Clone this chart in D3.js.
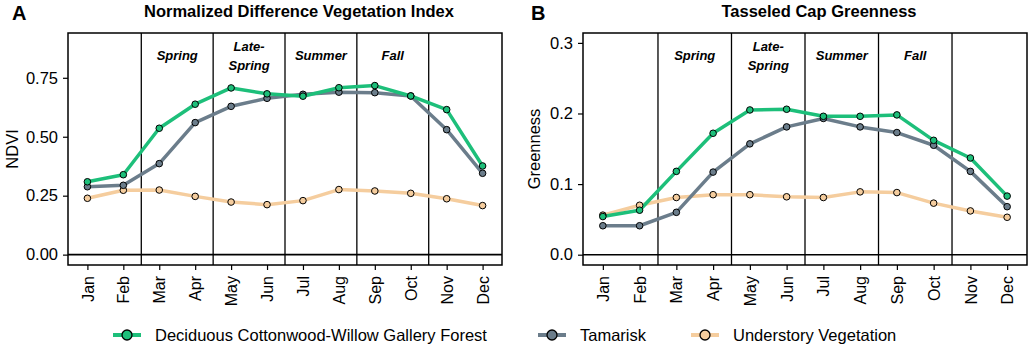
<!DOCTYPE html>
<html>
<head>
<meta charset="utf-8">
<script src="https://cdn.jsdelivr.net/npm/d3@7"></script>
<style>
  body { margin: 0; background: #fff; }
  svg { font-family: "Liberation Sans", Arial, sans-serif; }
</style>
</head>
<body>
<div id="chart"></div>
<script>
(function() {
  // data
  var months = ["Jan", "Feb", "Mar", "Apr", "May", "Jun", "Jul", "Aug", "Sep", "Oct", "Nov", "Dec"];
  var seriesNames = ["Deciduous Cottonwood-Willow Gallery Forest", "Tamarisk", "Understory Vegetation"];
  var seriesColors = ["#1dbf7a", "#6b7d8b", "#f5cd9e"];
  var seasons = ["Spring", "Late-\nSpring", "Summer", "Fall"];

  var ndviForest = [0.309, 0.339, 0.536, 0.638, 0.707, 0.682, 0.672, 0.708, 0.717, 0.673, 0.615, 0.376];
  var ndviTamarisk = [0.288, 0.294, 0.386, 0.560, 0.629, 0.663, 0.680, 0.689, 0.687, 0.673, 0.530, 0.345];
  var ndviUnderstory = [0.239, 0.273, 0.274, 0.247, 0.223, 0.212, 0.229, 0.276, 0.270, 0.260, 0.237, 0.208];
  var ndviTicks = [0, 0.25, 0.5, 0.75];

  var greenForest = [0.054, 0.063, 0.118, 0.172, 0.205, 0.206, 0.196, 0.196, 0.198, 0.162, 0.137, 0.083];
  var greenTamarisk = [0.041, 0.041, 0.060, 0.117, 0.157, 0.181, 0.193, 0.181, 0.173, 0.155, 0.118, 0.068];
  var greenUnderstory = [0.056, 0.070, 0.081, 0.085, 0.085, 0.082, 0.081, 0.089, 0.088, 0.073, 0.062, 0.053];
  var greenTicks = [0, 0.1, 0.2, 0.3];

  var svg = d3.select("#chart")
    .append("svg")
    .attr("width", 1031)
    .attr("height", 349);

  var panels = [
    { letter: "A", title: "Normalized Difference Vegetation Index", ylab: "NDVI",
      left: 68, right: 502, domain: [-0.044, 0.94], ticks: ndviTicks, fmt: d3.format(".2f"),
      series: [ndviForest, ndviTamarisk, ndviUnderstory], letterX: 12, ylabX: 18, titleX: 299 },
    { letter: "B", title: "Tasseled Cap Greenness", ylab: "Greenness",
      left: 583, right: 1027, domain: [-0.0146, 0.314], ticks: greenTicks, fmt: d3.format(".1f"),
      series: [greenForest, greenTamarisk, greenUnderstory], letterX: 531, ylabX: 540, titleX: 819 }
  ];

  var top = 33, bottom = 265;

  panels.forEach(function(p) {
    var x = d3.scalePoint()
      .domain(months)
      .range([p.left, p.right])
      .padding(0.54);
    var y = d3.scaleLinear()
      .domain(p.domain)
      .range([bottom, top]);

    var g = svg.append("g");

    // panel letter + title
    g.append("text")
      .attr("x", p.letterX).attr("y", 20)
      .attr("font-size", 20).attr("font-weight", "bold")
      .text(p.letter);
    g.append("text")
      .attr("x", p.titleX).attr("y", 17)
      .attr("text-anchor", "middle")
      .attr("font-size", 16.5).attr("font-weight", "bold")
      .text(p.title);

    // season dividers (between Feb/Mar, Apr/May, ...)
    var step = x.step();
    [1, 3, 5, 7, 9].forEach(function(i) {
      var xv = x(months[i]) + step / 2;
      g.append("line")
        .attr("x1", xv).attr("x2", xv)
        .attr("y1", top).attr("y2", bottom)
        .attr("stroke", "#000").attr("stroke-width", 1.3);
    });

    // season labels
    seasons.forEach(function(s, k) {
      var cx = x(months[2 + 2 * k]) + step / 2;
      var lines = s.split("\n");
      var t = g.append("text")
        .attr("text-anchor", "middle")
        .attr("font-size", 13).attr("font-weight", "bold").attr("font-style", "italic");
      if (lines.length === 1) {
        t.append("tspan").attr("x", cx).attr("y", 60).text(lines[0]);
      } else {
        t.append("tspan").attr("x", cx).attr("y", 51).text(lines[0]);
        t.append("tspan").attr("x", cx).attr("y", 70).text(lines[1]);
      }
    });

    // zero line
    g.append("line")
      .attr("x1", p.left).attr("x2", p.right)
      .attr("y1", y(0)).attr("y2", y(0))
      .attr("stroke", "#000").attr("stroke-width", 1.6);

    // frame
    g.append("rect")
      .attr("x", p.left).attr("y", top)
      .attr("width", p.right - p.left).attr("height", bottom - top)
      .attr("fill", "none").attr("stroke", "#000").attr("stroke-width", 1.5);

    // axes
    var yAxis = d3.axisLeft(y).tickValues(p.ticks).tickFormat(p.fmt).tickSize(5).tickPadding(5);
    var ya = g.append("g")
      .attr("transform", "translate(" + p.left + ",0)")
      .call(yAxis);
    ya.select(".domain").remove();
    ya.selectAll("line").attr("stroke", "#000").attr("stroke-width", 1.2);
    ya.selectAll("text").attr("font-size", 16.5).attr("fill", "#000")
      .attr("font-family", "Liberation Sans, Arial, sans-serif");

    var xAxis = d3.axisBottom(x).tickSize(5).tickPadding(4);
    var xa = g.append("g")
      .attr("transform", "translate(0," + bottom + ")")
      .call(xAxis);
    xa.select(".domain").remove();
    xa.selectAll("line").attr("stroke", "#000").attr("stroke-width", 1.2);
    xa.selectAll("text")
      .attr("font-size", 16).attr("fill", "#000")
      .attr("font-family", "Liberation Sans, Arial, sans-serif")
      .attr("transform", "rotate(-90)")
      .attr("text-anchor", "end")
      .attr("x", -11).attr("y", 0).attr("dy", "0.35em");

    // y label
    g.append("text")
      .attr("transform", "translate(" + p.ylabX + "," + ((top + bottom) / 2) + ") rotate(-90)")
      .attr("text-anchor", "middle")
      .attr("font-size", 16.5)
      .text(p.ylab);

    // series lines, then points on top
    var line = d3.line()
      .x(function(d, i) { return x(months[i]); })
      .y(function(d) { return y(d); });

    [2, 1, 0].forEach(function(k) {
      g.append("path")
        .datum(p.series[k])
        .attr("d", line)
        .attr("fill", "none")
        .attr("stroke", seriesColors[k])
        .attr("stroke-width", 3.5)
        .attr("stroke-linejoin", "round");
    });
    [2, 1, 0].forEach(function(k) {
      g.selectAll(".pt" + k)
        .data(p.series[k])
        .enter().append("circle")
        .attr("cx", function(d, i) { return x(months[i]); })
        .attr("cy", function(d) { return y(d); })
        .attr("r", 3.3)
        .attr("fill", seriesColors[k])
        .attr("stroke", "#000")
        .attr("stroke-width", 1);
    });
  });

  // legend
  var legendX = [127, 552, 705];
  var leg = svg.append("g");
  seriesNames.forEach(function(name, k) {
    var lx = legendX[k];
    leg.append("line")
      .attr("x1", lx - 14).attr("x2", lx + 14)
      .attr("y1", 335).attr("y2", 335)
      .attr("stroke", seriesColors[k]).attr("stroke-width", 4);
    leg.append("circle")
      .attr("cx", lx).attr("cy", 335).attr("r", 5)
      .attr("fill", seriesColors[k]).attr("stroke", "#000").attr("stroke-width", 1.3);
    leg.append("text")
      .attr("x", lx + 28).attr("y", 335).attr("dy", "0.35em")
      .attr("font-size", 16.5)
      .text(name);
  });
})();
</script>
</body>
</html>
